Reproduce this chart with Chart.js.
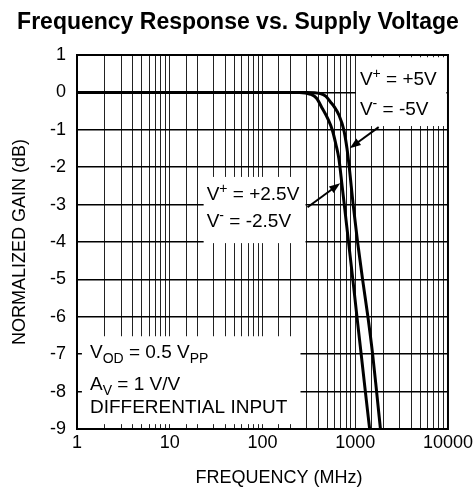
<!DOCTYPE html>
<html>
<head>
<meta charset="utf-8">
<script src="https://cdn.jsdelivr.net/npm/chart.js@4/dist/chart.umd.min.js"></script>
<style>
  html, body { margin: 0; padding: 0; background: #fff; }
</style>
</head>
<body>
<canvas id="freqChart" width="476" height="489"></canvas>
<script>
const FONT = '"Liberation Sans", Arial, Helvetica, sans-serif';

// values
const freqLabels = [1, 10, 100, 1000, 10000];
const gainTicks = [1, 0, -1, -2, -3, -4, -5, -6, -7, -8, -9];

// V+ = +5V, V- = -5V
const freq5V = [1, 100, 300, 420, 480, 538, 600, 666, 753, 815, 862, 905, 950, 1060, 1200, 1370, 1540, 1700, 1870];
const gain5V = [0, 0, 0, -0.03, -0.1, -0.25, -0.4, -0.6, -1.0, -1.5, -2.0, -2.5, -3.0, -4.0, -5.0, -6.0, -7.0, -8.0, -9.0];

// V+ = +2.5V, V- = -2.5V
const freq25V = [1, 100, 250, 330, 381, 442, 510, 565, 620, 666, 722, 762, 847, 942, 1044, 1159, 1286, 1430];
const gain25V = [0, 0, 0, -0.05, -0.15, -0.43, -0.72, -1.0, -1.4, -1.77, -2.5, -3.0, -4.0, -5.0, -6.0, -7.0, -8.0, -9.0];

function toPoints(xs, ys) {
  return xs.map((x, i) => ({ x: x, y: ys[i] }));
}

function isDecade(v) {
  const l = Math.log10(v);
  return Math.abs(l - Math.round(l)) < 1e-9;
}

// draw text made of normal / sub / sup pieces
function richText(ctx, x, y, parts, size) {
  let cx = x;
  ctx.textBaseline = 'middle';
  ctx.textAlign = 'left';
  for (const p of parts) {
    const s = p.s ? Math.round(size * 0.72) : size;
    ctx.font = s + 'px ' + FONT;
    let dy = 0;
    if (p.s === 'sub') dy = size * 0.32;
    if (p.s === 'sup') dy = -size * 0.33;
    ctx.fillText(p.t, cx, y + dy);
    cx += ctx.measureText(p.t).width;
  }
}

function arrow(ctx, x1, y1, x2, y2) {
  const ang = Math.atan2(y2 - y1, x2 - x1);
  const len = 11, half = 4;
  ctx.beginPath();
  ctx.moveTo(x1, y1);
  ctx.lineTo(x2 - Math.cos(ang) * len * 0.8, y2 - Math.sin(ang) * len * 0.8);
  ctx.lineWidth = 2;
  ctx.strokeStyle = '#000';
  ctx.stroke();
  ctx.beginPath();
  ctx.moveTo(x2, y2);
  ctx.lineTo(x2 - Math.cos(ang) * len - Math.sin(ang) * half, y2 - Math.sin(ang) * len + Math.cos(ang) * half);
  ctx.lineTo(x2 - Math.cos(ang) * len + Math.sin(ang) * half, y2 - Math.sin(ang) * len - Math.cos(ang) * half);
  ctx.closePath();
  ctx.fillStyle = '#000';
  ctx.fill();
}

// white label boxes, in data units (MHz, dB)
const boxes = [
  { f1: 1019, f2: 9600, g1: 0.94, g2: -0.9 },
  { f1: 23.2, f2: 291, g1: -2.26, g2: -4.03 },
  { f1: 1.13, f2: 257, g1: -6.52, g2: -8.87 }
];

const notesPlugin = {
  id: 'notes',
  beforeDatasetsDraw(chart) {
    const { ctx, scales: { x, y } } = chart;
    ctx.save();
    ctx.fillStyle = '#fff';
    for (const b of boxes) {
      const l = x.getPixelForValue(b.f1), r = x.getPixelForValue(b.f2);
      const t = y.getPixelForValue(b.g1), btm = y.getPixelForValue(b.g2);
      ctx.fillRect(l, t, r - l, btm - t);
    }
    ctx.restore();
  },
  afterDatasetsDraw(chart) {
    const { ctx, chartArea: a, scales: { x, y } } = chart;
    const px = f => x.getPixelForValue(f);
    const py = g => y.getPixelForValue(g);
    ctx.save();
    // frame
    ctx.strokeStyle = '#000';
    ctx.lineWidth = 2;
    ctx.strokeRect(a.left, a.top, a.right - a.left, a.bottom - a.top);

    ctx.fillStyle = '#000';
    const fs = 19;
    richText(ctx, px(1124), py(0.33), [{ t: 'V' }, { t: '+', s: 'sup' }, { t: ' = +5V' }], fs);
    richText(ctx, px(1124), py(-0.47), [{ t: 'V' }, { t: '-', s: 'sup' }, { t: ' = -5V' }], fs);
    richText(ctx, px(25), py(-2.75), [{ t: 'V' }, { t: '+', s: 'sup' }, { t: ' = +2.5V' }], fs);
    richText(ctx, px(25), py(-3.47), [{ t: 'V' }, { t: '-', s: 'sup' }, { t: ' = -2.5V' }], fs);
    richText(ctx, px(1.38), py(-6.97), [{ t: 'V' }, { t: 'OD', s: 'sub' }, { t: ' = 0.5 V' }, { t: 'PP', s: 'sub' }], fs);
    richText(ctx, px(1.38), py(-7.83), [{ t: 'A' }, { t: 'V', s: 'sub' }, { t: ' = 1 V/V' }], fs);
    richText(ctx, px(1.38), py(-8.44), [{ t: 'DIFFERENTIAL INPUT' }], fs);

    arrow(ctx, px(1791), py(-0.93), px(873), py(-1.49));
    arrow(ctx, px(306), py(-3.07), px(688), py(-2.43));

    // x axis title
    ctx.font = '18px ' + FONT;
    ctx.textAlign = 'center';
    ctx.textBaseline = 'middle';
    ctx.fillText('FREQUENCY (MHz)', 279, 478);
    ctx.restore();
  }
};

new Chart(document.getElementById('freqChart'), {
  type: 'line',
  data: {
    datasets: [
      {
        label: 'V+ = +5V',
        data: toPoints(freq5V, gain5V),
        borderColor: '#000',
        borderWidth: 3,
        pointRadius: 0,
        fill: false,
        cubicInterpolationMode: 'monotone'
      },
      {
        label: 'V+ = +2.5V',
        data: toPoints(freq25V, gain25V),
        borderColor: '#000',
        borderWidth: 3,
        pointRadius: 0,
        fill: false,
        cubicInterpolationMode: 'monotone'
      }
    ]
  },
  options: {
    responsive: false,
    animation: false,
    devicePixelRatio: 1,
    layout: { padding: 0 },
    plugins: {
      legend: { display: false },
      tooltip: { enabled: false },
      title: {
        display: true,
        text: 'Frequency Response vs. Supply Voltage',
        color: '#000',
        font: { family: FONT, size: 23, weight: 'bold' },
        padding: { top: 9, bottom: 18.4 }
      }
    },
    scales: {
      x: {
        type: 'logarithmic',
        min: 1,
        max: 10000,
        border: { display: false },
        grid: { color: '#222', lineWidth: 1, drawTicks: false },
        ticks: {
          autoSkip: false,
          maxRotation: 0,
          minRotation: 0,
          padding: 3,
          color: '#000',
          font: { family: FONT, size: 18 },
          callback: v => (isDecade(v) && freqLabels.includes(Math.round(v))) ? String(Math.round(v)) : ''
        },
        afterFit: s => { s.height = 60; }
      },
      y: {
        type: 'linear',
        min: gainTicks[gainTicks.length - 1],
        max: gainTicks[0],
        border: { display: false },
        grid: { color: '#000', lineWidth: 1.5, drawTicks: false },
        ticks: {
          stepSize: 1,
          padding: 11,
          color: '#000',
          font: { family: FONT, size: 18 }
        },
        title: {
          display: true,
          text: 'NORMALIZED GAIN (dB)',
          color: '#000',
          font: { family: FONT, size: 18 },
          padding: { top: 9, bottom: 0 }
        },
        afterFit: s => { s.width = 77; }
      }
    }
  },
  plugins: [notesPlugin]
});
</script>
</body>
</html>
